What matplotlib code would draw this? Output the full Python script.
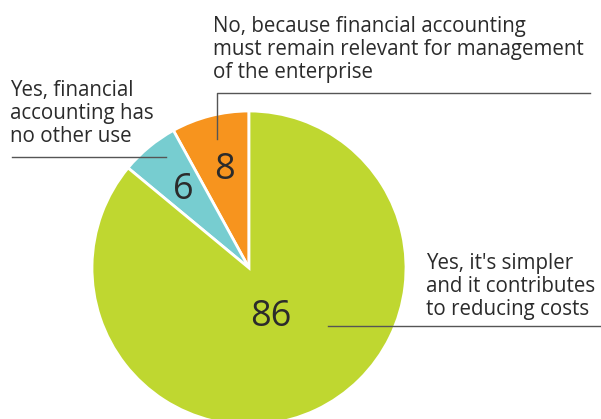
import matplotlib
matplotlib.use("Agg")
import matplotlib.pyplot as plt

# Survey answers, drawn counter-clockwise from 12 o'clock
categories = [
    "No, because financial accounting\nmust remain relevant for management\nof the enterprise",
    "Yes, financial\naccounting has\nno other use",
    "Yes, it's simpler\nand it contributes\nto reducing costs",
]
values = [8, 6, 86]
colors = ["#f7941e", "#77cdd0", "#bfd730"]

W, H = 601, 419
fig = plt.figure(figsize=(W / 100, H / 100), dpi=100)
ax = fig.add_axes([0, 0, 1, 1])

cx, cy, r = 249, H - 268, 157
ax.pie(values, colors=colors, startangle=90, counterclock=True,
       center=(cx, cy), radius=r, frame=True,
       wedgeprops=dict(edgecolor="white", linewidth=2))
ax.set_xlim(0, W)
ax.set_ylim(0, H)
ax.set_aspect("equal")
ax.axis("off")

txt = "#2b2b2b"
font = "Open Sans"
lbl_size = 14.8
num_size = 26
ls = 1.14

# value labels
ax.text(225, H - 170, str(values[0]), fontsize=num_size, color=txt,
        ha="center", va="center", family=font)
ax.text(183, H - 190, str(values[1]), fontsize=num_size, color=txt,
        ha="center", va="center", family=font)
ax.text(271, H - 317, str(values[2]), fontsize=num_size, color=txt,
        ha="center", va="center", family=font)

# category labels (anchored at the last line's baseline)
ax.text(213, H - 78, categories[0], fontsize=lbl_size, color=txt,
        ha="left", va="baseline", family=font, linespacing=ls)
ax.text(10, H - 142, categories[1], fontsize=lbl_size, color=txt,
        ha="left", va="baseline", family=font, linespacing=ls)
ax.text(426, H - 315, categories[2], fontsize=lbl_size, color=txt,
        ha="left", va="baseline", family=font, linespacing=ls)

# leader lines
lc = "#555555"
ax.plot([217, 217, 590], [H - 139, H - 93, H - 93], color=lc, lw=1)
ax.plot([12, 166], [H - 157, H - 157], color=lc, lw=1)
ax.plot([328, 601], [H - 326, H - 326], color=lc, lw=1)

fig.savefig("out.png", dpi=100)
